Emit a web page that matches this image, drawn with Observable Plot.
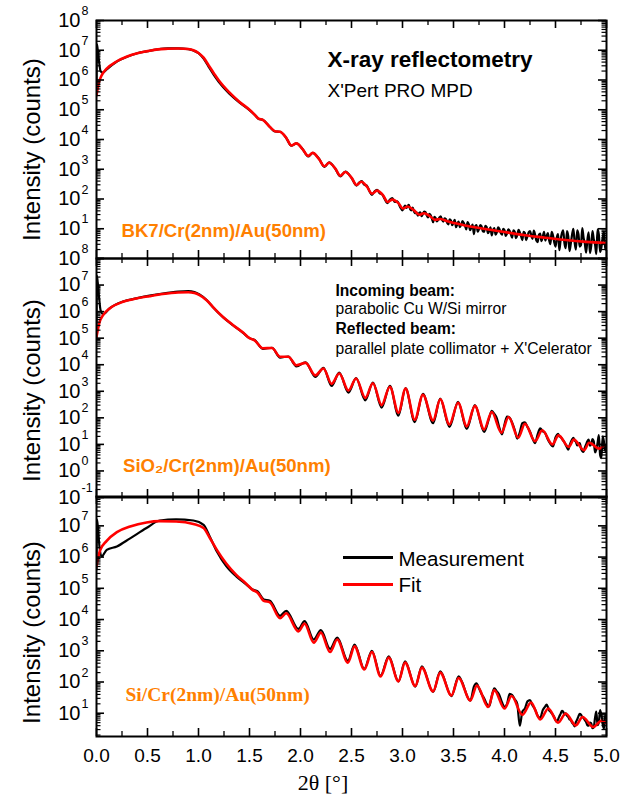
<!DOCTYPE html>
<html><head><meta charset="utf-8">
<script src="https://cdn.jsdelivr.net/npm/d3@7"></script>
<script src="https://cdn.jsdelivr.net/npm/@observablehq/plot@0.6"></script>
<style>
body{margin:0;background:#fff;}
#chart{position:relative;width:635px;height:796px;overflow:hidden;background:#fff;font-family:"Liberation Sans",Arial,sans-serif;}
#chart svg{position:absolute;left:0;}
.sw{position:absolute;height:3px;width:50px;}
</style></head><body><div id="chart"></div>
<script>
// ---------- data: [2θ (deg), log10(intensity counts)] ----------
const xMajor = [0, 0.5, 1, 1.5, 2, 2.5, 3, 3.5, 4, 4.5, 5];
const xMinor = [0.25, 0.75, 1.25, 1.75, 2.25, 2.75, 3.25, 3.75, 4.25, 4.75];
const yLabelExpBK7 = [1, 2, 3, 4, 5, 6, 7, 8];
const yLabelExpSiO2 = [-1, 0, 1, 2, 3, 4, 5, 6, 7, 8];
const yLabelExpSi = [1, 2, 3, 4, 5, 6, 7];
const yTitle = ["Intensity (counts)"];
const xTitle = ["2θ [°]"];
const sampleNames = ["BK7/Cr(2nm)/Au(50nm)", "SiO₂/Cr(2nm)/Au(50nm)", "Si/Cr(2nm)/Au(50nm)"];
const seriesNames = ["Measurement", "Fit"];

const fitBK7 = [[0,5.48],[0.02,5.87],[0.05,6.15],[0.1,6.38],[0.2,6.63],[0.3,6.79],[0.4,6.9],[0.5,6.97],[0.6,7.03],[0.7,7.05],[0.8,7.06],[0.9,7.04],[0.95,7.0],[1.0,6.91],[1.05,6.75],[1.1,6.49],[1.15,6.23],[1.2,5.98],[1.3,5.59],[1.4,5.27],[1.5,5.0],[1.56,4.8],[1.59,4.7],[1.63,4.66],[1.7,4.42],[1.75,4.28],[1.8,4.26],[1.86,4.06],[1.91,3.8],[1.96,3.87],[2.02,3.68],[2.075,3.45],[2.12,3.55],[2.18,3.35],[2.235,3.1],[2.28,3.22],[2.34,3.03],[2.39,2.78],[2.44,2.91],[2.5,2.72],[2.55,2.47],[2.595,2.58],[2.65,2.42],[2.7,2.18],[2.75,2.28],[2.81,2.12],[2.855,1.9],[2.9,1.98],[2.96,1.86],[3.005,1.68],[3.05,1.75],[3.11,1.63],[3.165,1.47],[3.21,1.52],[3.27,1.42],[3.32,1.3],[3.37,1.33],[3.45,1.24],[3.6,1.12],[3.8,1.0],[4.0,0.89],[4.2,0.78],[4.4,0.7],[4.6,0.62],[4.8,0.56],[5.0,0.52]];

const measBK7 = [[0,5.5],[0.004,7.2],[0.012,7.02],[0.025,6.62],[0.04,6.3],[0.06,6.25],[0.1,6.36],[0.2,6.62],[0.3,6.78],[0.4,6.9],[0.5,6.97],[0.6,7.03],[0.7,7.06],[0.8,7.06],[0.9,7.04],[0.95,6.99],[1.0,6.9],[1.05,6.72],[1.1,6.44],[1.15,6.17],[1.2,5.93],[1.3,5.55],[1.4,5.25],[1.5,4.99],[1.56,4.8],[1.59,4.69],[1.63,4.66],[1.7,4.42],[1.75,4.27],[1.8,4.26],[1.86,4.05],[1.91,3.79],[1.96,3.87],[2.02,3.68],[2.075,3.43],[2.12,3.55],[2.18,3.36],[2.235,3.08],[2.28,3.23],[2.34,3.02],[2.39,2.76],[2.44,2.92],[2.5,2.71],[2.55,2.45],[2.575,2.55],
[2.6,2.6],[2.625,2.48],[2.65,2.45],[2.675,2.27],[2.7,2.14],[2.725,2.25],[2.75,2.31],[2.775,2.2],[2.8,2.16],[2.825,2.0],[2.85,1.86],[2.875,1.97],[2.9,2.03],[2.925,1.9],[2.95,1.92],[2.975,1.74],[3.0,1.62],[3.025,1.78],[3.05,1.76],[3.075,1.66],[3.1,1.71],[3.125,1.52],[3.15,1.44],[3.175,1.55],[3.2,1.5],[3.225,1.56],[3.25,1.38],[3.275,1.46],[3.3,1.22],[3.325,1.36],[3.35,1.3],[3.375,1.42],[3.4,1.24],[3.425,1.33],[3.45,1.15],[3.475,1.28],[3.5,1.21],[3.525,1.05],[3.55,1.24],[3.575,1.13],[3.6,1.2],[3.625,0.98],[3.65,1.15],[3.675,1.04],[3.7,0.82],[3.725,1.12],[3.75,0.99],[3.775,1.08],[3.8,0.9],[3.825,1.06],[3.85,0.92],[3.875,0.78],[3.9,1.02],[3.925,0.88],[3.95,0.99],[3.975,0.8],[4.0,0.95],[4.025,0.84],[4.05,0.93],[4.075,0.7],[4.1,0.9],[4.125,0.78],[4.15,0.88],[4.175,0.62],[4.2,0.86],[4.225,0.74],[4.25,0.92],[4.275,0.66],[4.3,0.8],[4.325,0.55],[4.35,0.84],[4.375,0.72],[4.4,0.6],[4.425,0.85],[4.45,0.48],[4.475,0.78],[4.5,0.4],[4.525,0.82],[4.55,0.62],[4.575,0.95],[4.6,0.35],[4.625,0.75],[4.65,0.5],[4.675,1.0],[4.7,0.3],[4.725,0.82],[4.75,0.45],[4.775,0.7],[4.8,0.2],[4.825,0.88],[4.85,0.42],[4.875,0.65],[4.9,0.15],[4.925,0.8],[4.95,0.38],[4.975,0.9],[5.0,0.45],
[3.0125,1.7],[3.0375,1.7],[3.0625,1.8],[3.0875,1.62],[3.1125,1.58],[3.1375,1.55],[3.1625,1.52],[3.1875,1.42],[3.2125,1.58],[3.2375,1.45],[3.2625,1.5],[3.2875,1.35],[3.3125,1.4],[3.3375,1.25],[3.3625,1.38],[3.3875,1.3],[3.4125,1.35],[3.4375,1.2],[3.4625,1.32],[3.4875,1.12],[3.5125,1.3],[3.5375,1.16],[3.5625,1.05],[3.5875,1.26],[3.6125,1.1],[3.6375,1.22],[3.6625,0.95],[3.6875,1.14],[3.7125,1.08],[3.7375,0.9],[3.7625,1.12],[3.7875,0.92],[3.8125,1.1],[3.8375,0.85],[3.8625,1.05],[3.8875,0.95],[3.9125,0.8],[3.9375,1.05],[3.9625,0.86],[3.9875,1.0],[4.0125,0.76],[4.0375,0.98],[4.0625,0.82],[4.0875,0.95],[4.1125,0.68],[4.1375,0.96],[4.1625,0.75],[4.1875,0.9],[4.2125,0.62],[4.2375,0.88],[4.2625,0.78],[4.2875,0.94],[4.3125,0.6],[4.3375,0.8],[4.3625,0.58],[4.3875,0.9],[4.4125,0.75],[4.4375,0.62],[4.4625,0.9],[4.4875,0.55],[4.5125,0.7],[4.5375,0.28],[4.5625,0.85],[4.5875,0.52],[4.6125,0.92],[4.6375,0.25],[4.6625,0.8],[4.6875,0.55],[4.7125,0.95],[4.7375,0.4],[4.7625,1.02],[4.7875,0.5],[4.8125,0.62],[4.8375,0.18],[4.8625,0.92],[4.8875,0.48],[4.9125,0.98],[4.9375,0.22],[4.9625,0.7],[4.9875,0.3]];

const fitSiO2 = [[0,5.05],[0.03,5.6],[0.065,5.87],[0.13,6.12],[0.26,6.37],[0.39,6.49],[0.52,6.58],[0.65,6.66],[0.8,6.72],[0.9,6.73],[0.96,6.7],[1.01,6.62],[1.08,6.43],[1.14,6.18],[1.24,5.8],[1.34,5.49],[1.44,5.2],[1.5,5.0],[1.55,4.92],[1.63,4.62],[1.72,4.63],[1.8,4.3],[1.88,4.3],[1.96,3.98],[2.05,4.07],[2.145,3.6],[2.225,3.86],[2.305,3.28],[2.38,3.67],[2.47,3.03],[2.545,3.48],[2.635,2.75],[2.71,3.3],[2.795,2.48],[2.876,3.17],[2.96,2.19],[3.03,3.1],[3.12,1.93],[3.2,2.87],[3.3,1.9],[3.37,2.7],[3.46,1.75],[3.545,2.57],[3.63,1.68],[3.71,2.45],[3.8,1.56],[3.875,2.22],[3.97,1.44],[4.04,2.03],[4.135,1.25],[4.2,1.78],[4.3,1.12],[4.37,1.53],[4.47,1.0],[4.53,1.34],[4.63,0.9],[4.68,1.18],[4.78,0.78],[4.83,1.06],[4.93,0.84],[4.98,0.97]];

const measSiO2 = [[0,5.0],[0.004,7.35],[0.012,7.1],[0.025,6.55],[0.04,6.05],[0.065,5.9],[0.13,6.13],[0.26,6.38],[0.39,6.5],[0.52,6.6],[0.65,6.68],[0.8,6.75],[0.9,6.77],[0.96,6.74],[1.01,6.65],[1.08,6.44],[1.14,6.17],[1.24,5.79],[1.34,5.48],[1.44,5.19],[1.5,5.0],[1.55,4.93],[1.63,4.6],[1.72,4.64],[1.8,4.27],[1.88,4.31],[1.96,3.94],[2.05,4.09],[2.145,3.54],[2.225,3.88],[2.305,3.2],[2.38,3.7],[2.47,2.95],[2.545,3.5],[2.635,2.66],[2.71,3.33],[2.795,2.38],[2.876,3.2],[2.96,2.08],[3.03,3.12],[3.12,1.84],[3.2,2.9],[3.3,1.8],[3.37,2.72],[3.46,1.66],[3.545,2.6],[3.63,1.58],[3.71,2.48],[3.8,1.47],[3.85,2.0],
[3.875,2.26],[3.9,2.15],[3.925,1.98],[3.95,1.62],[3.975,1.38],[4.0,1.75],[4.025,2.05],[4.05,2.0],[4.075,1.82],[4.1,1.55],[4.125,1.22],[4.15,1.45],[4.175,1.8],[4.2,1.83],[4.225,1.66],[4.25,1.48],[4.275,1.22],[4.3,1.05],[4.325,1.38],[4.35,1.6],[4.375,1.5],[4.4,1.42],[4.425,1.18],[4.45,1.02],[4.475,0.92],[4.5,1.26],[4.525,1.4],[4.55,1.28],[4.575,1.15],[4.6,0.98],[4.625,0.8],[4.65,1.08],[4.675,1.25],[4.7,1.1],[4.725,1.02],[4.75,0.85],[4.775,0.72],[4.8,1.0],[4.825,1.18],[4.85,1.02],[4.875,1.12],[4.9,0.8],[4.925,1.35],[4.95,0.48],[4.975,1.1],[5.0,0.9],
[4.5125,1.35],[4.5375,1.3],[4.5625,1.22],[4.5875,1.08],[4.6125,0.88],[4.6375,0.95],[4.6625,1.18],[4.6875,1.15],[4.7125,0.96],[4.7375,1.05],[4.7625,0.75],[4.7875,0.88],[4.8125,1.12],[4.8375,0.95],[4.8625,1.2],[4.8875,0.7],[4.9125,1.05],[4.9375,0.6],[4.9625,1.3],[4.9875,0.75]];

const fitSi = [[0,5.7],[0.033,6.2],[0.1,6.52],[0.2,6.8],[0.33,6.98],[0.49,7.11],[0.62,7.15],[0.78,7.14],[0.95,7.06],[1.05,6.93],[1.11,6.62],[1.18,6.23],[1.27,5.8],[1.37,5.43],[1.47,5.14],[1.53,4.95],[1.58,4.86],[1.64,4.6],[1.7,4.55],[1.8,4.04],[1.86,4.2],[1.98,3.62],[2.04,3.87],[2.13,3.26],[2.2,3.58],[2.29,2.96],[2.36,3.36],[2.465,2.62],[2.53,3.14],[2.625,2.4],[2.7,2.96],[2.785,2.18],[2.865,2.78],[2.96,2.02],[3.025,2.62],[3.125,1.87],[3.19,2.46],[3.3,1.7],[3.37,2.3],[3.48,1.57],[3.55,2.13],[3.665,1.41],[3.73,1.89],[3.84,1.2],[3.9,1.74],[4.0,1.15],[4.07,1.55],[4.175,0.95],[4.26,1.34],[4.35,0.8],[4.43,1.15],[4.525,0.7],[4.6,0.99],[4.7,0.61],[4.765,0.88],[4.87,0.56],[4.95,0.76],[5.0,0.68]];

const measSi = [[0,5.6],[0.005,7.2],[0.015,6.9],[0.03,6.3],[0.05,6.02],[0.1,6.23],[0.2,6.34],[0.33,6.6],[0.49,6.93],[0.62,7.17],[0.78,7.21],[0.95,7.17],[1.05,7.03],[1.11,6.66],[1.18,6.18],[1.27,5.72],[1.37,5.38],[1.47,5.12],[1.53,4.96],[1.58,4.9],[1.64,4.64],[1.7,4.6],[1.8,4.12],[1.86,4.28],[1.98,3.7],[2.04,3.95],[2.13,3.36],[2.2,3.66],[2.29,3.06],[2.36,3.42],[2.465,2.68],[2.53,3.2],[2.625,2.42],[2.7,3.0],[2.785,2.2],[2.865,2.82],[2.96,2.02],[3.025,2.66],[3.125,1.85],[3.19,2.5],[3.3,1.68],[3.37,2.34],[3.48,1.55],[3.55,2.18],[3.665,1.4],
[3.7,1.85],[3.725,1.96],[3.75,1.8],[3.775,1.62],[3.8,1.48],[3.825,1.3],[3.85,1.22],[3.875,1.55],[3.9,1.8],[3.925,1.7],[3.95,1.58],[3.975,1.35],[4.0,1.2],[4.025,1.3],[4.05,1.62],[4.075,1.58],[4.1,1.45],[4.125,1.3],[4.15,0.6],[4.175,1.05],[4.2,1.15],[4.225,1.38],[4.25,1.42],[4.275,1.25],[4.3,1.12],[4.325,0.92],[4.35,0.85],[4.375,1.1],[4.4,1.22],[4.425,1.2],[4.45,1.05],[4.475,0.95],[4.5,0.78],[4.525,0.8],[4.55,0.98],[4.575,1.05],[4.6,1.0],[4.625,0.88],[4.65,0.78],[4.675,0.65],[4.7,0.72],[4.725,0.9],[4.75,0.95],[4.775,0.85],[4.8,0.72],[4.825,0.6],[4.85,0.68],[4.875,0.55],[4.9,1.05],[4.925,0.72],[4.95,0.95],[4.975,0.5],[5.0,0.85],
[4.4125,1.28],[4.4375,1.1],[4.4625,1.0],[4.4875,0.88],[4.5125,0.72],[4.5375,0.9],[4.5625,1.08],[4.5875,0.95],[4.6125,0.92],[4.6375,0.8],[4.6625,0.7],[4.6875,0.58],[4.7125,0.8],[4.7375,0.98],[4.7625,0.88],[4.7875,0.78],[4.8125,0.62],[4.8375,0.7],[4.8625,0.52],[4.8875,0.85],[4.9125,0.62],[4.9375,1.1],[4.9625,0.65],[4.9875,0.95]];

// ---------- drawing ----------
const ORANGE = "#ff8000";
const FONT = "Liberation Sans, Arial, sans-serif";
const chart = document.getElementById("chart");
const byX = arr => arr.slice().sort((a, b) => a[0] - b[0]);

function makePanel(cfg) {
  const W = 635 - 96 - 29;
  const H = cfg.height - cfg.marginTop - cfg.marginBottom;
  const [lo, hi] = cfg.domain;
  const eLo = Math.floor(Math.log10(lo)), eHi = Math.ceil(Math.log10(hi));
  const major = [], minor = [];
  for (let e = eLo; e <= eHi; e++) {
    const v = 10 ** e;
    if (v >= lo * 0.999 && v <= hi * 1.001) major.push(v);
    for (let k = 2; k <= 9; k++) { const m = k * 10 ** e; if (m > lo && m < hi) minor.push(m); }
  }
  const X = d => d[0], Y = d => 10 ** d[1];
  const marks = [
    Plot.line(byX(cfg.meas), {x: X, y: Y, stroke: "#000", strokeWidth: 2.2, curve: "monotone-x", clip: true}),
    Plot.line(byX(cfg.fit), {x: X, y: Y, stroke: "#ff0000", strokeWidth: 2.6, curve: "monotone-x", clip: true}),
    Plot.tickX(xMajor, {x: d => d, insetTop: H - 8, strokeWidth: 1.6}),
    Plot.tickX(xMajor, {x: d => d, insetBottom: H - 8, strokeWidth: 1.6}),
    Plot.tickX(xMinor, {x: d => d, insetTop: H - 5, strokeWidth: 1.3}),
    Plot.tickX(xMinor, {x: d => d, insetBottom: H - 5, strokeWidth: 1.3}),
    Plot.tickY(major, {y: d => d, insetRight: W - 8, strokeWidth: 1.6}),
    Plot.tickY(major, {y: d => d, insetLeft: W - 8, strokeWidth: 1.6}),
    Plot.tickY(minor, {y: d => d, insetRight: W - 4.5, strokeWidth: 1.2}),
    Plot.tickY(minor, {y: d => d, insetLeft: W - 4.5, strokeWidth: 1.2}),
    Plot.frame({stroke: "#000", strokeWidth: 2}),
    Plot.text(cfg.labels, {y: d => 10 ** d, frameAnchor: "left", text: () => "10", dx: -16, textAnchor: "end", lineAnchor: "middle", fontSize: 20}),
    Plot.text(cfg.labels, {y: d => 10 ** d, frameAnchor: "left", text: d => String(d), dx: -15, dy: -9.5, textAnchor: "start", lineAnchor: "middle", fontSize: 12.5}),
    Plot.text(yTitle, {frameAnchor: "left", text: d => d, rotate: -90, dx: -64, dy: cfg.titleDy, textAnchor: "middle", lineAnchor: "middle", fontSize: 24}),
    ...cfg.extra
  ];
  const svg = Plot.plot({
    width: 635, height: cfg.height,
    marginLeft: 96, marginRight: 29, marginTop: cfg.marginTop, marginBottom: cfg.marginBottom,
    x: {domain: [0, 5], axis: null},
    y: {type: "log", domain: cfg.domain, axis: null},
    style: {background: "none", overflow: "visible", fontFamily: FONT, color: "#000"},
    marks
  });
  svg.style.top = cfg.top + "px";
  chart.appendChild(svg);
}

// Panel 1: BK7
makePanel({
  top: 0, height: 278, marginTop: 20, marginBottom: 20, domain: [1, 1e8],
  labels: yLabelExpBK7, fit: fitBK7, meas: measBK7, titleDy: 10,
  extra: [
    Plot.text(["X-ray reflectometry"], {frameAnchor: "top-left", text: d => d, dx: 231, dy: 46.5, textAnchor: "start", lineAnchor: "bottom", fontSize: 22.5, fontWeight: "bold"}),
    Plot.text(["X'Pert PRO MPD"], {frameAnchor: "top-left", text: d => d, dx: 231, dy: 76.5, textAnchor: "start", lineAnchor: "bottom", fontSize: 19}),
    Plot.text([sampleNames[0]], {frameAnchor: "top-left", text: d => d, dx: 25, dy: 216, textAnchor: "start", lineAnchor: "bottom", fontSize: 18.6, fontWeight: "bold", fill: ORANGE})
  ]
});

// Panel 2: SiO2
makePanel({
  top: 238, height: 279, marginTop: 20, marginBottom: 20, domain: [0.1, 1e8],
  labels: yLabelExpSiO2, fit: fitSiO2, meas: measSiO2, titleDy: 12.5,
  extra: [
    Plot.text(["Incoming beam:"], {frameAnchor: "top-left", text: d => d, dx: 239, dy: 37, textAnchor: "start", lineAnchor: "bottom", fontSize: 15.6, fontWeight: "bold"}),
    Plot.text(["parabolic Cu W/Si mirror"], {frameAnchor: "top-left", text: d => d, dx: 239, dy: 55.5, textAnchor: "start", lineAnchor: "bottom", fontSize: 15.7}),
    Plot.text(["Reflected beam:"], {frameAnchor: "top-left", text: d => d, dx: 239, dy: 75.5, textAnchor: "start", lineAnchor: "bottom", fontSize: 15.6, fontWeight: "bold"}),
    Plot.text(["parallel plate collimator + X'Celerator"], {frameAnchor: "top-left", text: d => d, dx: 239, dy: 95.5, textAnchor: "start", lineAnchor: "bottom", fontSize: 15.7}),
    Plot.text([sampleNames[1]], {frameAnchor: "top-left", text: d => d, dx: 26.5, dy: 213.3, textAnchor: "start", lineAnchor: "bottom", fontSize: 18.6, fontWeight: "bold", fill: ORANGE})
  ]
});

// Panel 3: Si
makePanel({
  top: 476, height: 320, marginTop: 20, marginBottom: 60, domain: [1.8, 8.7e7],
  labels: yLabelExpSi, fit: fitSi, meas: measSi, titleDy: 16,
  extra: [
    Plot.text(xMajor, {x: d => d, frameAnchor: "bottom", text: d => d.toFixed(1), dy: 19, lineAnchor: "middle", fontSize: 19}),
    Plot.text(xTitle, {frameAnchor: "bottom", text: d => d, dx: -28.5, dy: 53, textAnchor: "middle", lineAnchor: "bottom", fontSize: 22, fontFamily: "Liberation Serif, Times New Roman, serif"}),
    Plot.text([seriesNames[0]], {frameAnchor: "top-left", text: d => d, dx: 302, dy: 69.3, textAnchor: "start", lineAnchor: "bottom", fontSize: 20.5}),
    Plot.text([seriesNames[1]], {frameAnchor: "top-left", text: d => d, dx: 302, dy: 95.3, textAnchor: "start", lineAnchor: "bottom", fontSize: 20.5}),
    Plot.text([sampleNames[2]], {frameAnchor: "top-left", text: d => d, dx: 29, dy: 204, textAnchor: "start", lineAnchor: "bottom", fontSize: 19.5, fontWeight: "bold", fill: ORANGE, fontFamily: "Liberation Serif, Times New Roman, serif"})
  ]
});

// legend swatches
const swBlack = document.createElement("div");
swBlack.className = "sw"; swBlack.style.cssText = "left:343px;top:556px;background:#000;";
const swRed = document.createElement("div");
swRed.className = "sw"; swRed.style.cssText = "left:343px;top:583px;background:#ff0000;";
chart.appendChild(swBlack); chart.appendChild(swRed);
</script></body></html>
